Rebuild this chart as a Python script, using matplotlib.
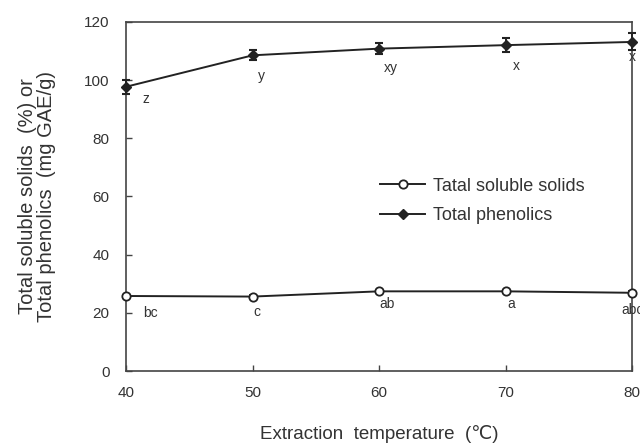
import matplotlib
matplotlib.use("Agg")
import matplotlib.pyplot as plt
from matplotlib.lines import Line2D

plt.rcParams['font.family'] = ['Liberation Sans', 'DejaVu Sans']

temps = [40, 50, 60, 70, 80]
solids = [25.8, 25.6, 27.4, 27.4, 26.9]
solids_err = [0.5, 0.5, 0.5, 0.5, 0.5]
phenolics = [97.7, 108.5, 110.8, 112.0, 113.1]
phenolics_err = [2.4, 1.7, 1.9, 2.3, 2.9]
solids_letters = ['bc', 'c', 'ab', 'a', 'abc']
solids_letter_pos = [(41.9, 19.8), (50.3, 20.4), (60.6, 23.0), (70.4, 23.0), (80.0, 21.0)]
phen_letters = ['z', 'y', 'xy', 'x', 'x']
phen_letter_pos = [(41.6, 93.5), (50.7, 101.3), (60.9, 104.0), (70.8, 104.8), (80.0, 108.0)]

fig = plt.figure(figsize=(6.4, 4.46), dpi=100)
ax = fig.add_axes([0.197, 0.168, 0.791, 0.783])

col = '#222222'
ax.errorbar(temps, solids, yerr=solids_err, color=col, lw=1.4, marker='o',
            ms=6, mfc='white', mec=col, mew=1.3, capsize=3, elinewidth=1.2,
            clip_on=False, zorder=3)
ax.errorbar(temps, phenolics, yerr=phenolics_err, color=col, lw=1.4, marker='D',
            ms=5, mfc=col, mec=col, capsize=3, capthick=1.5, elinewidth=1.4,
            clip_on=False, zorder=3)

for t, (x, y) in zip(solids_letters, solids_letter_pos):
    ax.text(x, y, t, ha='center', va='center', fontsize=10, color='#333333', clip_on=False)
for t, (x, y) in zip(phen_letters, phen_letter_pos):
    ax.text(x, y, t, ha='center', va='center', fontsize=10, color='#333333', clip_on=False)

ax.set_xlim(40, 80)
ax.set_ylim(0, 120)
ax.set_xticks([40, 50, 60, 70, 80])
ax.set_yticks([0, 20, 40, 60, 80, 100, 120])
ax.tick_params(direction='in', length=4, width=1, colors='#444444', labelsize=11,
               labelcolor='#333333')
ax.tick_params(axis='y', pad=12)
ax.tick_params(axis='x', pad=11)
for s in ax.spines.values():
    s.set_color('#444444')
    s.set_linewidth(1.2)

ax.set_ylabel('Total soluble solids  (%) or\nTotal phenolics  (mg GAE/g)', fontsize=14.5,
              color='#333333', labelpad=20, linespacing=1.0)
ax.set_xlabel('Extraction  temperature  (℃)', fontsize=13.5, color='#333333', labelpad=18)

handles = [
    Line2D([], [], color=col, lw=1.4, marker='o', ms=6, mfc='white', mec=col, mew=1.3),
    Line2D([], [], color=col, lw=1.4, marker='D', ms=5, mfc=col, mec=col),
]
leg = ax.legend(handles, ['Tatal soluble solids', 'Total phenolics'],
                loc='upper left', bbox_to_anchor=(0.47, 0.6), frameon=False,
                fontsize=13, handlelength=2.5, labelspacing=0.7, handletextpad=0.4)
for t in leg.get_texts():
    t.set_color('#333333')

fig.savefig('out.png', dpi=100)
